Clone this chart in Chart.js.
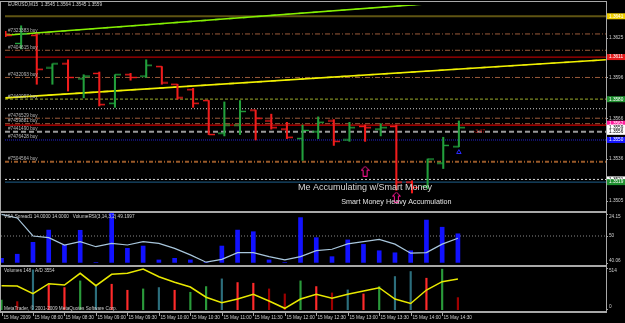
<!DOCTYPE html>
<html>
<head>
<meta charset="utf-8">
<script src="https://cdn.jsdelivr.net/npm/chart.js@4.4.1/dist/chart.umd.min.js"></script>
<style>
  html, body { margin: 0; padding: 0; background: #000; }
  #wrap { position: relative; width: 625px; height: 323px; overflow: hidden; background: #000; }
  canvas { position: absolute; left: 0; }
  .ln { position: absolute; background: #a8a8a8; }
</style>
</head>
<body>
<div id="wrap">
  <canvas id="cMain" width="625" height="212" style="top:0"></canvas>
  <canvas id="cVsa" width="625" height="54" style="top:212px"></canvas>
  <canvas id="cVol" width="625" height="57" style="top:266px"></canvas>
  <div class="ln" style="left:0;top:1px;width:607px;height:1px"></div>
  <div class="ln" style="left:0;top:1px;width:1px;height:312px"></div>
  <div class="ln" style="left:606px;top:1px;width:1px;height:312px"></div>
  <div class="ln" style="left:0;top:211px;width:607px;height:2px"></div>
  <div class="ln" style="left:0;top:265px;width:607px;height:2px"></div>
  <div class="ln" style="left:0;top:311px;width:607px;height:2px"></div>
</div>
<script>
// ---- data (EURUSD M15, 15 May 2009) ----
const barTimes = ['07:30','07:45','08:00','08:15','08:30','08:45','09:00','09:15','09:30','09:45',
                  '10:00','10:15','10:30','10:45','11:00','11:15','11:30','11:45','12:00','12:15',
                  '12:30','12:45','13:00','13:15','13:30','13:45','14:00','14:15','14:30','14:45'];
const opens  = [1.3629,1.3621,1.3627,1.3603,1.3606,1.3595,1.3599,1.3577,1.3598,1.3597,
                1.3604,1.3591,1.3587,1.3579,1.3555,1.3561,1.3572,1.3564,1.3558,1.3551,
                1.3556,1.3564,1.3550,1.3560,1.3558,1.3560,1.3519,1.3516,1.3533,1.3545];
const highs  = [1.3630,1.3634,1.3628,1.3606,1.3609,1.3598,1.3600,1.3598,1.3599,1.3609,
                1.3604,1.3591,1.3588,1.3579,1.3578,1.3579,1.3572,1.3569,1.3563,1.3561,
                1.3567,1.3565,1.3563,1.3561,1.3562,1.3561,1.3520,1.3536,1.3552,1.3564];
const lows   = [1.3626,1.3617,1.3591,1.3591,1.3586,1.3581,1.3575,1.3574,1.3594,1.3596,
                1.3591,1.3580,1.3574,1.3554,1.3553,1.3554,1.3550,1.3558,1.3551,1.3535,
                1.3551,1.3546,1.3549,1.3549,1.3553,1.3513,1.3511,1.3514,1.3529,1.3545];
const closes = [1.3627,1.3628,1.3602,1.3606,1.3596,1.3597,1.3576,1.3598,1.3596,1.3605,
                1.3592,1.3581,1.3577,1.3554,1.3561,1.3571,1.3566,1.3559,1.3552,1.3557,
                1.3563,1.3549,1.3559,1.3559,1.3559,1.3519,1.3515,1.3536,1.3546,1.3559];

const vsaSpread = [2.0,4.0,9.8,15.8,8.5,15.7,0,24.15,6.9,8.0,1.2,2.0,1.2,0,8.0,
                   15.8,15.0,1.2,0,21.9,12.1,2.8,11.0,8.8,5.7,4.7,5.7,20.7,17.2,14.0];
const volumeRsi = [57.7,56.4,50.0,49.4,46.8,48.0,46.2,47.4,46.8,48.0,47.4,45.6,43.3,40.7,41.7,
                   44.1,44.1,42.7,41.5,42.7,44.8,45.3,47.2,48.0,48.8,47.1,43.9,44.1,47.1,49.2];
const volumes = [120,100,480,300,268,348,300,308,236,252,268,236,212,280,372,
                 328,320,252,192,348,280,204,240,192,280,400,460,380,488,148];
const volKind = ['up','lo','cl','dn','dn','up','cl','dn','dn','up','cl','dn','up','up','cl',
                 'dn','dn','lo','lo','up','dn','lo','cl','dn','up','cl','cl','dn','up','lo'];
const accDist = [3286,3274,2966,3366,3314,3782,3286,3742,3782,3954,3646,3422,3234,2826,2606,
                 2754,2942,2674,2382,2754,2942,2782,2942,3074,3206,2754,2574,3114,3446,3554];

const priceTicks = [1.3625, 1.3596, 1.3566, 1.3536, 1.3505];
const timeTickBars = [0,2,4,6,8,10,12,14,16,18,20,22,24,26,28];
const timeTickLabels = ['15 May 2009','15 May 08:00','15 May 08:30','15 May 09:00','15 May 09:30',
                        '15 May 10:00','15 May 10:30','15 May 11:00','15 May 11:30','15 May 12:00',
                        '15 May 12:30','15 May 13:00','15 May 13:30','15 May 14:00','15 May 14:30'];

const orderPrices = [1.3628, 1.3616, 1.3596, 1.3580, 1.3566, 1.3562, 1.3556, 1.3550, 1.3534];
const orderNames  = ['#7323383 buy','#7404615 buy','#7432093 buy','#7440097 buy','#7476529 buy',
                     '#7459881 buy','#7441490 buy','#7476428 buy','#7504564 buy'];
const levelPrices = [1.3641, 1.3611, 1.3573, 1.3561, 1.3521, 1.3519];
const tagPrices   = [1.3641, 1.3611, 1.3580, 1.3562, 1.3559, 1.3556, 1.3550, 1.3521, 1.3519];

const trendGreen  = [{x: 0, y: 1.3627}, {x: 38.4, y: 1.3660}];
const trendYellow = [{x: 0, y: 1.3581}, {x: 38.4, y: 1.3609}];

const noteText  = ['Me Accumulating w/Smart Money', 'Smart Money Heavy Accumulation', '-3.47'];
const noteBar   = [23, 25, 30.3];
const notePrice = [1.3515, 1.3504, 1.3556];
const arrowBar = [23, 25];
const arrowPrice = [1.3527, 1.3508];
const markBar = [29];
const markPrice = [1.3541];

const titleMain = 'EURUSD,M15  1.3545 1.3564 1.3545 1.3559';
const titleVsa = 'VSA Spread1 14.0000 14.0000   VolumeRSI(3,14,3,2) 49.1997';
const titleVol = 'Volumes 148   A/D 3554';

// ---- styles ----
const X_MIN = -0.032, X_MAX = 38.41;
const UP = '#22a03c', DN = '#f01c1c';
const TXT = '#cfcfcf';
const F = s => s + 'px "Liberation Sans", Arial, sans-serif';
const SIENNA = {c: '#9a5a3a', w: 1, d: [5, 2, 1, 2]};
const orderStyles = [SIENNA, SIENNA, SIENNA, {c: '#7c8a22', w: 1.3, d: [3, 2]}, SIENNA, SIENNA,
                     {c: '#9a9a9a', w: 2, d: [5, 3]}, {c: '#2222d0', w: 1, d: [1, 1]},
                     {c: '#9a5a28', w: 2, d: [4, 2, 1, 2]}];
const levelStyles = [{c: '#5f5412', w: 2}, {c: '#b00000', w: 1.3}, {c: '#c8c8c8', w: 1, d: [1, 2]},
                     {c: '#cc0000', w: 1.3}, {c: '#d8d8d8', w: 1, d: [2, 2]}, {c: '#1e5f8a', w: 1}];
const tagStyles = [{bg: '#f0d000', fg: '#ffffff'}, {bg: '#e41b1b', fg: '#ffffff'}, {bg: '#1f8f2f', fg: '#ffffff'},
                   {bg: '#ff1a9c', fg: '#ffffff'}, {bg: '#ffffff', fg: '#000000'}, {bg: '#ffffff', fg: '#000000'},
                   {bg: '#1414ff', fg: '#ffffff'}, {bg: '#ffffff', fg: '#000000'}, {bg: '#1f8f2f', fg: '#ffffff'}];
const noteStyles = [{f: 9, c: '#d8d8d8'}, {f: 7.2, c: '#e2e2e2'}, {f: 5, c: '#c41010'}];
const volColors = {up: '#2a9a3a', dn: '#ff2a2a', cl: '#2c6e7c', lo: '#a00000'};

const idx = barTimes.map((t, i) => i);
const isUp = i => closes[i] >= opens[i];

function tickImg(color, side) {
  const c = document.createElement('canvas');
  c.width = 12; c.height = 3;
  const g = c.getContext('2d');
  g.fillStyle = color;
  g.fillRect(side === 'L' ? 0 : 6, 0.8, 6, 1.4);
  return c;
}
const tickL = {up: tickImg(UP, 'L'), dn: tickImg(DN, 'L')};
const tickR = {up: tickImg(UP, 'R'), dn: tickImg(DN, 'R')};

function arrowImg() {
  const c = document.createElement('canvas');
  c.width = 9; c.height = 11;
  const g = c.getContext('2d');
  g.strokeStyle = '#ff1493'; g.lineWidth = 1;
  g.beginPath();
  g.moveTo(4.5, 0.5); g.lineTo(8.5, 4.5); g.lineTo(6.5, 4.5); g.lineTo(6.5, 10.5);
  g.lineTo(2.5, 10.5); g.lineTo(2.5, 4.5); g.lineTo(0.5, 4.5); g.closePath();
  g.stroke();
  return c;
}

function hline(p, st, axis) {
  return {type: 'line', data: [{x: X_MIN, y: p}, {x: X_MAX, y: p}], yAxisID: axis || 'y',
          borderColor: st.c, borderWidth: st.w, borderDash: st.d || [], pointRadius: 0, order: 50};
}

function baseOptions(padTop, padBottom, yScales) {
  return {
    responsive: false, maintainAspectRatio: false, animation: false, devicePixelRatio: 1, events: [],
    layout: {padding: {left: 1, right: 19, top: padTop, bottom: padBottom}},
    plugins: {legend: {display: false}, tooltip: {enabled: false}},
    scales: Object.assign({x: {type: 'linear', display: false, offset: false, bounds: 'data', min: X_MIN, max: X_MAX}}, yScales)
  };
}

function rightLabel(ctx, a, py, text, base) {
  ctx.strokeStyle = '#a8a8a8'; ctx.lineWidth = 1;
  ctx.beginPath(); ctx.moveTo(a.right, Math.round(py) + 0.5); ctx.lineTo(a.right + 2, Math.round(py) + 0.5); ctx.stroke();
  ctx.fillStyle = TXT; ctx.textAlign = 'left'; ctx.textBaseline = base || 'middle';
  ctx.fillText(text, a.right + 3, py);
}

// ---- main price window ----
const mainDatasets = [];
levelPrices.forEach((p, k) => mainDatasets.push(hline(p, levelStyles[k])));
orderPrices.forEach((p, k) => mainDatasets.push(hline(p, orderStyles[k])));
[[trendGreen, '#86f000', 1.6, []], [trendGreen, '#3f8a22', 1.6, [5, 9]],
 [trendYellow, '#f2f200', 1.6, []], [trendYellow, '#8a8a16', 1.6, [5, 9]]].forEach(t => {
  mainDatasets.push({type: 'line', data: t[0], borderColor: t[1], borderWidth: t[2], borderDash: t[3],
                     pointRadius: 0, order: 40});
});
mainDatasets.push({type: 'bar', data: idx.map(i => ({x: i, y: [lows[i], highs[i]]})),
  backgroundColor: idx.map(i => isUp(i) ? UP : DN), barThickness: 1.4, borderWidth: 0, order: 10});
mainDatasets.push({type: 'line', showLine: false, data: idx.map(i => ({x: i, y: opens[i]})),
  pointStyle: c => tickL[isUp(c.dataIndex) ? 'up' : 'dn'], pointRadius: 3, order: 5});
mainDatasets.push({type: 'line', showLine: false, data: idx.map(i => ({x: i, y: closes[i]})),
  pointStyle: c => tickR[isUp(c.dataIndex) ? 'up' : 'dn'], pointRadius: 3, order: 5});
const arrow = arrowImg();
mainDatasets.push({type: 'line', showLine: false, data: arrowBar.map((b, k) => ({x: b, y: arrowPrice[k]})),
  pointStyle: arrow, pointRadius: 4, order: 2});
mainDatasets.push({type: 'line', showLine: false, data: markBar.map((b, k) => ({x: b, y: markPrice[k]})),
  pointStyle: 'triangle', pointRadius: 2.6, borderColor: '#2a2aff', borderWidth: 1,
  backgroundColor: 'rgba(0,0,0,0)', order: 2});

const mainPlugin = {
  id: 'mainText',
  afterDatasetsDraw(chart) {
    const {ctx, chartArea: a, scales: {x, y}} = chart;
    ctx.save();
    ctx.font = F(4.7); ctx.fillStyle = '#b8b8b8'; ctx.textAlign = 'left'; ctx.textBaseline = 'middle';
    orderPrices.forEach((p, k) => ctx.fillText(orderNames[k], a.left + 3, y.getPixelForValue(p) - 3));
    noteText.forEach((t, k) => {
      ctx.font = F(noteStyles[k].f); ctx.fillStyle = noteStyles[k].c; ctx.textAlign = 'center';
      ctx.fillText(t, x.getPixelForValue(noteBar[k]), y.getPixelForValue(notePrice[k]));
    });
    ctx.restore();
  },
  afterDraw(chart) {
    const {ctx, chartArea: a, scales: {y}} = chart;
    ctx.save();
    ctx.font = F(4.7);
    priceTicks.forEach(p => rightLabel(ctx, a, y.getPixelForValue(p), p.toFixed(4)));
    tagPrices.forEach((p, k) => {
      const py = y.getPixelForValue(p);
      ctx.fillStyle = tagStyles[k].bg; ctx.fillRect(a.right + 1, py - 3, 18, 6);
      ctx.fillStyle = tagStyles[k].fg; ctx.textAlign = 'left'; ctx.textBaseline = 'middle';
      ctx.fillText(p.toFixed(4), a.right + 3, py);
    });
    ctx.fillStyle = TXT; ctx.textAlign = 'left'; ctx.textBaseline = 'middle';
    ctx.fillText(titleMain, a.left + 3, 5);
    ctx.restore();
  }
};

new Chart(document.getElementById('cMain'), {
  type: 'bar',
  data: {datasets: mainDatasets},
  options: baseOptions(2, 2, {y: {type: 'linear', display: false, bounds: 'data', min: 1.35007, max: 1.36493}}),
  plugins: [mainPlugin]
});

// ---- VSA / VolumeRSI window ----
const vsaPlugin = {
  id: 'vsaText',
  afterDraw(chart) {
    const {ctx, chartArea: a, scales: {yv, yr}} = chart;
    ctx.save();
    ctx.font = F(4.7);
    rightLabel(ctx, a, yv.getPixelForValue(24.15) + 1, '24.15', 'top');
    rightLabel(ctx, a, yr.getPixelForValue(50), '50');
    rightLabel(ctx, a, yr.getPixelForValue(40.06) - 1, '40.06', 'bottom');
    ctx.fillStyle = TXT; ctx.textAlign = 'left'; ctx.textBaseline = 'middle';
    ctx.fillText(titleVsa, a.left + 3, 5);
    ctx.restore();
  }
};

new Chart(document.getElementById('cVsa'), {
  type: 'bar',
  data: {datasets: [
    hline(50, {c: '#8a8a8a', w: 1, d: [1, 2]}, 'yr'),
    {type: 'line', data: idx.map(i => ({x: i, y: volumeRsi[i]})), yAxisID: 'yr',
     borderColor: '#a8c6dc', borderWidth: 1.2, pointRadius: 0, order: 5},
    {type: 'bar', data: idx.map(i => ({x: i, y: vsaSpread[i]})), yAxisID: 'yv',
     backgroundColor: '#1212ff', barThickness: 4, borderWidth: 0, order: 10}
  ]},
  options: baseOptions(1, 2, {
    yv: {type: 'linear', display: false, bounds: 'data', min: -0.78, max: 24.15},
    yr: {type: 'linear', display: false, bounds: 'data', min: 40.06, max: 58.165}
  }),
  plugins: [vsaPlugin]
});

// ---- Volumes / A/D window + time axis ----
const volPlugin = {
  id: 'volText',
  afterDraw(chart) {
    const {ctx, chartArea: a, scales: {x, yq}} = chart;
    ctx.save();
    ctx.font = F(4.7);
    rightLabel(ctx, a, yq.getPixelForValue(514) + 1, '514', 'top');
    rightLabel(ctx, a, yq.getPixelForValue(0) - 1, '0', 'bottom');
    ctx.fillStyle = TXT; ctx.textAlign = 'left'; ctx.textBaseline = 'middle';
    ctx.fillText(titleVol, a.left + 3, 5);
    ctx.fillText('MetaTrader, \u00A9 2001-2009 MetaQuotes Software Corp.', a.left + 3, a.bottom - 1);
    timeTickBars.forEach((b, k) => {
      const px = Math.round(x.getPixelForValue(b)) + 0.5;
      ctx.strokeStyle = '#a8a8a8'; ctx.lineWidth = 1;
      ctx.beginPath(); ctx.moveTo(px, a.bottom + 3); ctx.lineTo(px, a.bottom + 6); ctx.stroke();
      ctx.fillStyle = TXT;
      ctx.fillText(timeTickLabels[k], px + 1, a.bottom + 8);
    });
    ctx.restore();
  }
};

new Chart(document.getElementById('cVol'), {
  type: 'bar',
  data: {datasets: [
    {type: 'line', data: idx.map(i => ({x: i, y: accDist[i]})), yAxisID: 'ya',
     borderColor: '#e8e800', borderWidth: 1.5, pointRadius: 0, order: 5},
    {type: 'bar', data: idx.map(i => ({x: i, y: volumes[i]})), yAxisID: 'yq',
     backgroundColor: idx.map(i => volColors[volKind[i]]), barThickness: 1.5, borderWidth: 0, order: 10}
  ]},
  options: baseOptions(1, 13, {
    yq: {type: 'linear', display: false, bounds: 'data', min: 0, max: 514},
    ya: {type: 'linear', display: false, bounds: 'data', min: 2314, max: 4034}
  }),
  plugins: [volPlugin]
});
</script>
</body>
</html>
